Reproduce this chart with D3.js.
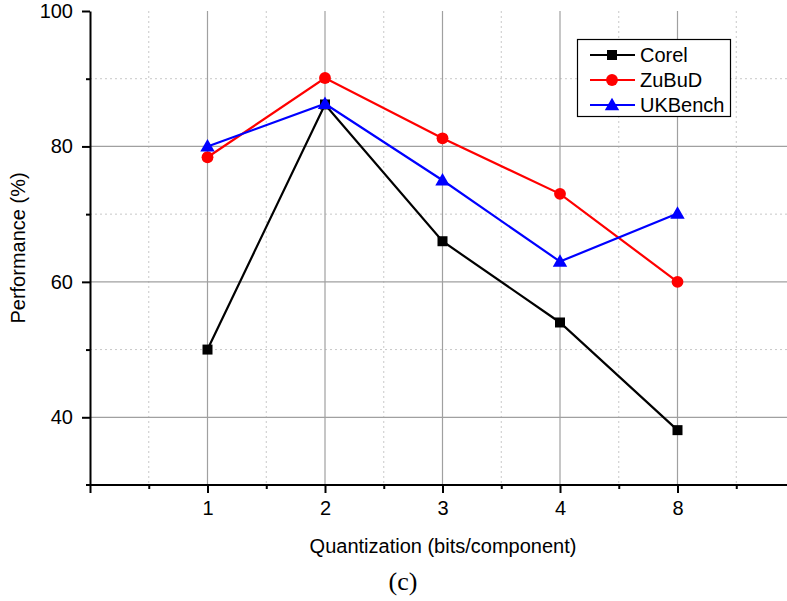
<!DOCTYPE html>
<html>
<head>
<meta charset="utf-8">
<script src="https://cdn.jsdelivr.net/npm/d3@7/dist/d3.min.js"></script>
<style>
html,body{margin:0;padding:0;background:#fff;}
svg{display:block;}
</style>
</head>
<body>
<svg id="chart" width="787" height="601"></svg>
<script>
const categories = ["1", "2", "3", "4", "8"];
const corel   = [50, 86.2, 66, 54, 38.1];
const zubud   = [78.4, 90.1, 81.2, 73, 60];
const ukbench = [80, 86.3, 75, 63, 70.1];
const yMajorTicks = [40, 60, 80, 100];
const yMinorTicks = [50, 70, 90];
const seriesNames = ["Corel", "ZuBuD", "UKBench"];

const svg = d3.select("#chart");
const font = "'Liberation Sans', Arial, Helvetica, sans-serif";
const fs = 20;

const x = d3.scaleLinear().domain([0, 6]).range([90, 795]);
const y = d3.scaleLinear().domain([30, 100]).range([485, 11]);

const xPos = categories.map((c, i) => i + 1);
const xMajorAll = d3.range(0, 7, 1);
const xMinorAll = d3.range(0.5, 6, 1);

// grid
const grid = svg.append("g");
grid.selectAll(".vminor").data(xMinorAll).join("line")
  .attr("x1", d => x(d)).attr("x2", d => x(d)).attr("y1", y(100)).attr("y2", y(30))
  .attr("stroke", "#c8c8c8").attr("stroke-width", 1).attr("stroke-dasharray", "2,3");
grid.selectAll(".hminor").data(yMinorTicks).join("line")
  .attr("x1", x(0)).attr("x2", x(6)).attr("y1", d => y(d)).attr("y2", d => y(d))
  .attr("stroke", "#c8c8c8").attr("stroke-width", 1).attr("stroke-dasharray", "2,3");
grid.selectAll(".vmajor").data(xPos).join("line")
  .attr("x1", d => x(d)).attr("x2", d => x(d)).attr("y1", y(100)).attr("y2", y(30))
  .attr("stroke", "#a0a0a0").attr("stroke-width", 1.2);
grid.selectAll(".hmajor").data([40, 60, 80]).join("line")
  .attr("x1", x(0)).attr("x2", x(6)).attr("y1", d => y(d)).attr("y2", d => y(d))
  .attr("stroke", "#a0a0a0").attr("stroke-width", 1.2);

// axes
const yAxis = d3.axisLeft(y).tickValues(yMajorTicks).tickSize(8).tickPadding(9).tickSizeOuter(0);
const gy = svg.append("g").attr("transform", `translate(${x(0)},0)`).call(yAxis);
gy.select(".domain").attr("stroke", "#000").attr("stroke-width", 2);
gy.selectAll(".tick line").attr("stroke", "#000").attr("stroke-width", 2);
gy.selectAll(".tick text").attr("font-family", font).attr("font-size", fs).attr("fill", "#000");
const yMinorAxis = d3.axisLeft(y).tickValues(yMinorTicks).tickSize(4).tickFormat("").tickSizeOuter(0);
const gym = svg.append("g").attr("transform", `translate(${x(0)},0)`).call(yMinorAxis);
gym.select(".domain").remove();
gym.selectAll(".tick line").attr("stroke", "#000").attr("stroke-width", 2);

const xAxis = d3.axisBottom(x).tickValues(xMajorAll).tickSize(8).tickPadding(8).tickSizeOuter(0)
  .tickFormat(d => (d >= 1 && d <= categories.length) ? categories[d - 1] : "");
const gx = svg.append("g").attr("transform", `translate(0,${y(30)})`).call(xAxis);
gx.select(".domain").attr("stroke", "#000").attr("stroke-width", 2).attr("d", `M${x(0)-4},0H${x(6)}`);
gx.selectAll(".tick line").attr("stroke", "#000").attr("stroke-width", 2);
gx.selectAll(".tick text").attr("font-family", font).attr("font-size", fs).attr("fill", "#000");
const xMinorAxis = d3.axisBottom(x).tickValues(xMinorAll).tickSize(4).tickFormat("").tickSizeOuter(0);
const gxm = svg.append("g").attr("transform", `translate(0,${y(30)})`).call(xMinorAxis);
gxm.select(".domain").remove();
gxm.selectAll(".tick line").attr("stroke", "#000").attr("stroke-width", 2);

// labels
svg.append("text").attr("x", 443).attr("y", 553).attr("text-anchor", "middle")
  .attr("font-family", font).attr("font-size", fs).text("Quantization (bits/component)");
svg.append("text").attr("transform", `translate(25,248) rotate(-90)`).attr("text-anchor", "middle")
  .attr("font-family", font).attr("font-size", fs).text("Performance (%)");
svg.append("text").attr("x", 403).attr("y", 590).attr("text-anchor", "middle")
  .attr("font-family", "'Liberation Serif', 'Times New Roman', serif").attr("font-size", 26).text("(c)");

// series
const series = [
  {name: seriesNames[0], values: corel, color: "#000000", marker: "square"},
  {name: seriesNames[1], values: zubud, color: "#ff0000", marker: "circle"},
  {name: seriesNames[2], values: ukbench, color: "#0000ff", marker: "triangle"}
];
const symbolType = {square: d3.symbolSquare, circle: d3.symbolCircle, triangle: d3.symbolTriangle};
const symbolSize = {square: 100, circle: 110, triangle: 90};

const line = d3.line().x((d, i) => x(xPos[i])).y(d => y(d));
series.forEach(s => {
  svg.append("path").datum(s.values).attr("d", line)
    .attr("fill", "none").attr("stroke", s.color).attr("stroke-width", 2.2);
});
series.forEach(s => {
  svg.append("g").selectAll("path").data(s.values).join("path")
    .attr("transform", (d, i) => `translate(${x(xPos[i])},${y(d) + (s.marker === "triangle" ? 1 : 0)})`)
    .attr("d", d3.symbol().type(symbolType[s.marker]).size(symbolSize[s.marker]))
    .attr("fill", s.color);
});

// legend
const lg = svg.append("g");
lg.append("rect").attr("x", 577.5).attr("y", 39.5).attr("width", 153).attr("height", 77)
  .attr("fill", "#fff").attr("stroke", "#000").attr("stroke-width", 1.2);
series.forEach((s, i) => {
  const ly = 55 + i * 25;
  lg.append("line").attr("x1", 590).attr("x2", 635).attr("y1", ly).attr("y2", ly)
    .attr("stroke", s.color).attr("stroke-width", 2.2);
  lg.append("path").attr("transform", `translate(612,${ly + (s.marker === "triangle" ? 1 : 0)})`)
    .attr("d", d3.symbol().type(symbolType[s.marker]).size(symbolSize[s.marker]))
    .attr("fill", s.color);
  lg.append("text").attr("x", 640).attr("y", ly + 7)
    .attr("font-family", font).attr("font-size", fs).text(s.name);
});
</script>
</body>
</html>
